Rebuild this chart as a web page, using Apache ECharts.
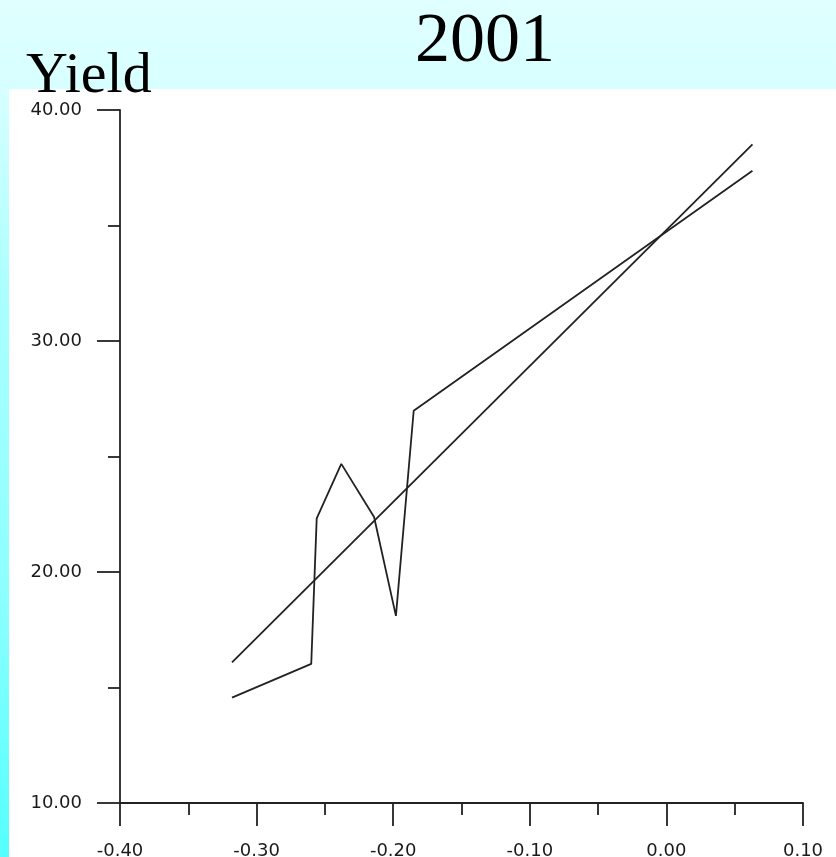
<!DOCTYPE html>
<html>
<head>
<meta charset="utf-8">
<title>2001 Yield</title>
<script src="https://cdn.jsdelivr.net/npm/echarts@6/dist/echarts.min.js"></script>
<style>
  html, body { margin: 0; padding: 0; background: #ffffff; }
  #chart { width: 836px; height: 857px; }
</style>
</head>
<body>
<div id="chart"></div>
<script>
// Fitted trend line (two end points)
const fitX = [-0.318, 0.063];
const fitY = [16.09, 38.51];

// Observed yield series
const obsX = [-0.318, -0.260, -0.256, -0.238, -0.214, -0.198, -0.185, 0.063];
const obsY = [14.56, 16.02, 22.32, 24.68, 22.38, 18.10, 26.98, 37.37];

// Axis ranges and ticks
const xMin = -0.4, xMax = 0.1, xStep = 0.1;
const yMin = 10, yMax = 40, yStep = 10;

const titleText = '2001';
const yName = 'Yield';

const pair = (xs, ys) => xs.map((x, i) => [x, ys[i]]);
const fmt = v => (Math.abs(v) < 1e-9 ? 0 : v).toFixed(2);

const chart = echarts.init(document.getElementById('chart'), null, { renderer: 'canvas' });

const axisCommon = {
  type: 'value',
  splitLine: { show: false },
  axisLine: { show: true, onZero: false, lineStyle: { color: '#222', width: 1.8 } },
  axisTick: { show: true, length: 23, lineStyle: { color: '#222', width: 1.8 } },
  minorTick: { show: true, splitNumber: 2, length: 12, lineStyle: { color: '#222', width: 1.8 } },
  axisLabel: {
    showMinLabel: true, showMaxLabel: true,
    fontFamily: 'DejaVu Sans', fontSize: 18, color: '#1a1a1a',
    formatter: fmt
  }
};

chart.setOption({
  animation: false,
  backgroundColor: '#ffffff',
  grid: {
    left: 120, right: 33, top: 110, bottom: 54,
    containLabel: false, outerBoundsMode: 'none'
  },
  xAxis: Object.assign({}, axisCommon, {
    min: xMin, max: xMax, interval: xStep,
    axisLabel: Object.assign({}, axisCommon.axisLabel, { margin: 39 })
  }),
  yAxis: Object.assign({}, axisCommon, {
    min: yMin, max: yMax, interval: yStep,
    axisLabel: Object.assign({}, axisCommon.axisLabel, { margin: 38 })
  }),
  graphic: [
    {
      type: 'rect', z: -20, silent: true,
      shape: { x: 0, y: 0, width: 836, height: 857 },
      style: {
        fill: {
          type: 'linear', x: 0, y: 0, x2: 0, y2: 1,
          colorStops: [
            { offset: 0, color: '#e0ffff' },
            { offset: 0.1, color: '#d8ffff' },
            { offset: 0.35, color: '#aaffff' },
            { offset: 0.7, color: '#8cffff' },
            { offset: 1, color: '#55ffff' }
          ]
        }
      }
    },
    {
      type: 'rect', z: -19, silent: true,
      shape: { x: 9, y: 89, width: 827, height: 768 },
      style: { fill: '#ffffff' }
    },
    {
      type: 'text', z: 20, silent: true,
      style: {
        text: titleText, x: 415, y: 43,
        font: '70px "Liberation Serif"', fill: '#000',
        align: 'left', verticalAlign: 'middle'
      }
    },
    {
      type: 'text', z: 20, silent: true,
      style: {
        text: yName, x: 26, y: 77,
        font: '58px "Liberation Serif"', fill: '#000',
        align: 'left', verticalAlign: 'middle'
      }
    }
  ],
  series: [
    {
      type: 'line', data: pair(fitX, fitY), showSymbol: false,
      lineStyle: { color: '#222', width: 1.8 }
    },
    {
      type: 'line', data: pair(obsX, obsY), showSymbol: false,
      lineStyle: { color: '#222', width: 1.8 }
    }
  ]
});
</script>
</body>
</html>
